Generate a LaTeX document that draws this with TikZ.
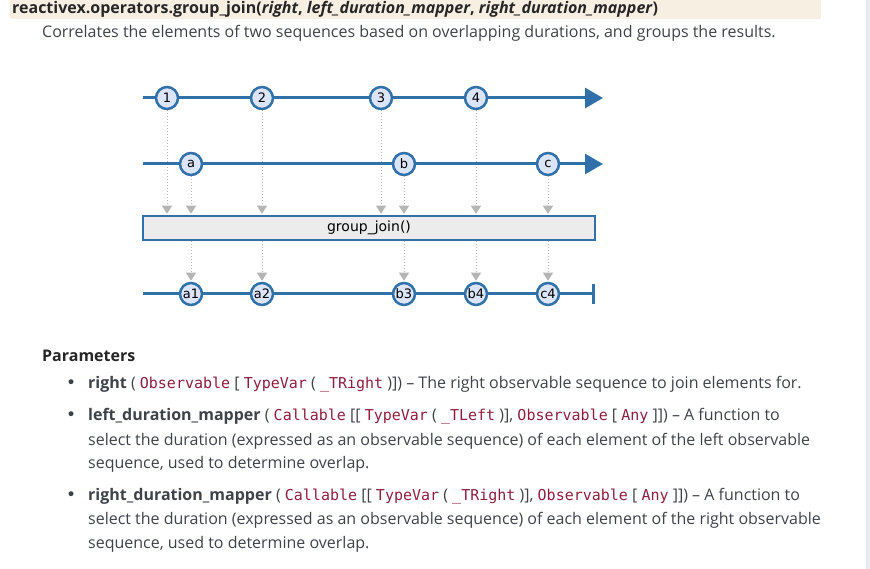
\documentclass[tikz,border=0pt]{standalone}
\usepackage{fontspec}
\setmainfont{Open Sans}
\newfontfamily\marblefont{DejaVu Sans}
\newfontfamily\codefont{DejaVu Sans Mono}
\usetikzlibrary{arrows.meta}
\usetikzlibrary{positioning}

\definecolor{mblue}{HTML}{3071A9}
\definecolor{mfill}{HTML}{DCE4F8}
\definecolor{mgray}{HTML}{B5B5B5}
\definecolor{boxfill}{HTML}{ECECEC}
\definecolor{headbg}{HTML}{F8EFE3}
\definecolor{scrollbg}{HTML}{E9EAED}
\definecolor{bodytext}{HTML}{3E4349}
\definecolor{codered}{HTML}{8E1E3C}

\newcommand{\codetok}[1]{{\codefont\fontsize{15}{18}\selectfont\color{codered}#1}}
\newcommand{\bulletmark}{{\marblefont\fontsize{17}{18}\selectfont •}}

\pgfdeclarelayer{dots}
\pgfdeclarelayer{lines}
\pgfsetlayers{dots,lines,main}

\begin{document}
\begin{tikzpicture}[
    x=1pt, y=-1pt,
    font=\fontsize{16}{19}\selectfont,
    text=bodytext
]
\tikzset{
    txt/.style = {anchor=base west, inner sep=0pt},
    timeline/.style = {draw=mblue, line width=3pt},
    marble/.style = {circle, draw=mblue, fill=mfill, line width=2.5pt,
        minimum size=22pt, inner sep=0pt, text=black,
        font=\marblefont\fontsize{13}{13}\selectfont},
    opbox/.style = {draw=mblue, fill=boxfill, line width=2.5pt,
        minimum width=452pt, minimum height=24pt, inner sep=0pt, text=black,
        font=\marblefont\fontsize{14}{14}\selectfont},
    flow/.style = {draw=mgray, line width=1pt, dash pattern=on 1pt off 2pt,
        -{Triangle[length=8pt,width=10pt,fill=mgray,sep=0pt]}, shorten >=1pt}
}
\useasboundingbox (0,0) rectangle (870,569);

% page background
\fill[headbg] (10,0) rectangle (821,19);
\fill[scrollbg] (866,0) rectangle (870,569);

% heading
\node[txt, text=black!85] (title) at (12,14) {\bfseries reactivex.operators.group\_join(\textit{right}, \textit{left\_duration\_mapper}, \textit{right\_duration\_mapper})};
\node[txt] (desc) at (42,38) {Correlates the elements of two sequences based on overlapping durations, and groups the results.};

% timelines
\coordinate (s1) at (143,98);
\coordinate (e1) at (603,98);
\coordinate (s2) at (143,164);
\coordinate (e2) at (603,164);
\coordinate (s3) at (143,294);
\coordinate (e3) at (595,294);

\node[opbox] (op) at (369,228) {group\_join()};

% first source
\node[marble] (m1) at (167,98) {1};
\node[marble] (m2) at (262,98) {2};
\node[marble] (m3) at (381,98) {3};
\node[marble] (m4) at (476,98) {4};
% second source
\node[marble] (ma) at (191,164) {a};
\node[marble] (mb) at (404,164) {b};
\node[marble] (mc) at (548,164) {c};
% result
\node[marble] (ra1) at (191,294) {a1};
\node[marble] (ra2) at (262,294) {a2};
\node[marble] (rb3) at (404,294) {b3};
\node[marble] (rb4) at (476,294) {b4};
\node[marble] (rc4) at (548,294) {c4};

% dotted flows into and out of the operator
\begin{pgfonlayer}{dots}
\foreach \m in {m1,m2,m3,m4,ma,mb,mc}
    \draw[flow] (\m) -- (\m |- op.north);
\foreach \r in {ra1,ra2,rb3,rb4,rc4}
    \draw[flow] (\r |- op.south) -- (\r);
\end{pgfonlayer}

% lines under the marbles
\begin{pgfonlayer}{lines}
\draw[timeline, -{Triangle[length=18pt,width=20pt]}] (s1) -- (e1);
\draw[timeline, -{Triangle[length=18pt,width=20pt]}] (s2) -- (e2);
\draw[timeline, -{Bar[width=20pt]}] (s3) -- (e3);
\end{pgfonlayer}

% parameters
\node[txt, font=\fontsize{16}{19}\selectfont\bfseries, text=black!85] (params) at (42,361) {Parameters};

\node[txt] (b1) at (66,388) {\bulletmark};
\node[txt] (p1) at (88,388) {\textbf{right} ( \codetok{Observable} [ \codetok{TypeVar} ( \codetok{\_TRight} )]) -- The right observable sequence to join elements for.};

\node[txt] (b2) at (66,420) {\bulletmark};
\node[txt] (p2a) at (88,420) {\textbf{left\_duration\_mapper} ( \codetok{Callable} [[ \codetok{TypeVar} ( \codetok{\_TLeft} )], \codetok{Observable} [ \codetok{Any} ]]) -- A function to};
\node[txt] (p2b) at (88,445) {select the duration (expressed as an observable sequence) of each element of the left observable};
\node[txt] (p2c) at (88,468) {sequence, used to determine overlap.};

\node[txt] (b3) at (66,500) {\bulletmark};
\node[txt] (p3a) at (88,500) {\textbf{right\_duration\_mapper} ( \codetok{Callable} [[ \codetok{TypeVar} ( \codetok{\_TRight} )], \codetok{Observable} [ \codetok{Any} ]]) -- A function to};
\node[txt] (p3b) at (88,524) {select the duration (expressed as an observable sequence) of each element of the right observable};
\node[txt] (p3c) at (88,548) {sequence, used to determine overlap.};
\end{tikzpicture}
\end{document}
